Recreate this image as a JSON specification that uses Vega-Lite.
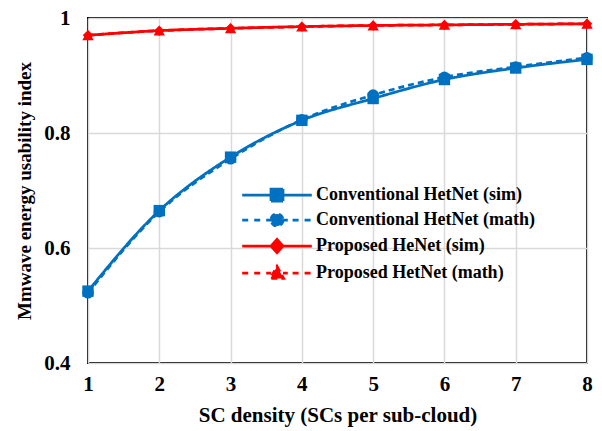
{
  "$schema": "https://vega.github.io/schema/vega-lite/v6.json",
  "autosize": "none",
  "width": 499,
  "height": 345,
  "padding": {"left": 88, "top": 18, "right": 15, "bottom": 68},
  "background": "white",
  "config": {
    "font": "Liberation Serif",
    "view": {"stroke": "black", "strokeWidth": 2},
    "axis": {
      "labelFont": "Liberation Serif", "labelFontWeight": "bold", "labelFontSize": 21, "labelColor": "black",
      "titleFont": "Liberation Serif", "titleFontWeight": "bold", "titleFontSize": 21, "titleColor": "black",
      "gridColor": "#d9d9d9", "gridWidth": 1.5, "domain": false, "ticks": false
    }
  },
  "data": {"values": [
    {"x": 1, "y": 0.525, "series": "Conventional HetNet (sim)"},
    {"x": 2, "y": 0.665, "series": "Conventional HetNet (sim)"},
    {"x": 3, "y": 0.758, "series": "Conventional HetNet (sim)"},
    {"x": 4, "y": 0.822, "series": "Conventional HetNet (sim)"},
    {"x": 5, "y": 0.860, "series": "Conventional HetNet (sim)"},
    {"x": 6, "y": 0.893, "series": "Conventional HetNet (sim)"},
    {"x": 7, "y": 0.913, "series": "Conventional HetNet (sim)"},
    {"x": 8, "y": 0.928, "series": "Conventional HetNet (sim)"},
    {"x": 1, "y": 0.522, "series": "Conventional HetNet (math)"},
    {"x": 2, "y": 0.663, "series": "Conventional HetNet (math)"},
    {"x": 3, "y": 0.755, "series": "Conventional HetNet (math)"},
    {"x": 4, "y": 0.823, "series": "Conventional HetNet (math)"},
    {"x": 5, "y": 0.866, "series": "Conventional HetNet (math)"},
    {"x": 6, "y": 0.897, "series": "Conventional HetNet (math)"},
    {"x": 7, "y": 0.915, "series": "Conventional HetNet (math)"},
    {"x": 8, "y": 0.931, "series": "Conventional HetNet (math)"},
    {"x": 1, "y": 0.970, "series": "Proposed HeNet (sim)"},
    {"x": 2, "y": 0.978, "series": "Proposed HeNet (sim)"},
    {"x": 3, "y": 0.982, "series": "Proposed HeNet (sim)"},
    {"x": 4, "y": 0.985, "series": "Proposed HeNet (sim)"},
    {"x": 5, "y": 0.987, "series": "Proposed HeNet (sim)"},
    {"x": 6, "y": 0.988, "series": "Proposed HeNet (sim)"},
    {"x": 7, "y": 0.989, "series": "Proposed HeNet (sim)"},
    {"x": 8, "y": 0.990, "series": "Proposed HeNet (sim)"},
    {"x": 1, "y": 0.970, "series": "Proposed HetNet (math)"},
    {"x": 2, "y": 0.978, "series": "Proposed HetNet (math)"},
    {"x": 3, "y": 0.982, "series": "Proposed HetNet (math)"},
    {"x": 4, "y": 0.985, "series": "Proposed HetNet (math)"},
    {"x": 5, "y": 0.987, "series": "Proposed HetNet (math)"},
    {"x": 6, "y": 0.988, "series": "Proposed HetNet (math)"},
    {"x": 7, "y": 0.989, "series": "Proposed HetNet (math)"},
    {"x": 8, "y": 0.990, "series": "Proposed HetNet (math)"}
  ]},
  "encoding": {
    "x": {"field": "x", "type": "quantitative", "scale": {"domain": [1, 8], "nice": false},
          "axis": {"values": [1,2,3,4,5,6,7,8], "title": "SC density (SCs per sub-cloud)", "labelPadding": 10, "titlePadding": 10, "labelFlush": false}},
    "y": {"field": "y", "type": "quantitative", "scale": {"domain": [0.4, 1], "nice": false},
          "axis": {"values": [0.4, 0.6, 0.8, 1.0], "format": ".1~f", "title": "Mmwave energy usability index", "titleFontSize": 19, "labelPadding": 18, "titlePadding": 9, "labelFlush": false}},
    "color": {"field": "series", "type": "nominal",
              "scale": {"domain": ["Conventional HetNet (sim)", "Conventional HetNet (math)", "Proposed HeNet (sim)", "Proposed HetNet (math)"],
                        "range": ["#0070C0", "#0070C0", "#FF0000", "#FF0000"]},
              "legend": {
                "title": null, "orient": "none", "legendX": 180, "legendY": 168,
                "labelFont": "Liberation Serif", "labelFontWeight": "bold", "labelFontSize": 18, "labelColor": "black", "labelLimit": 400,
                "symbolSize": 144, "symbolStrokeWidth": 2.75, "labelOffset": 30, "rowPadding": 1,
                "encode": {"symbols": {"update": {
                  "shape": {"signal": "datum.value === 'Conventional HetNet (sim)' ? 'M-5.8,0H5.8M-1,-1H1V1H-1Z' : datum.value === 'Conventional HetNet (math)' ? 'M-5.8,0H-4.6M-3.8,0H-2.6M-1.8,0H-1M1,0H1.8M2.6,0H3.8M4.6,0H5.8M1,0A1,1 0 1,1 -1,0A1,1 0 1,1 1,0Z' : datum.value === 'Proposed HeNet (sim)' ? 'M-5.8,0H5.8M0,-1.1L1,0L0,1.1L-1,0Z' : 'M-5.8,0H-4.6M-3.8,0H-2.6M-1.8,0H-1M1,0H1.8M2.6,0H3.8M4.6,0H5.8M0,-1.1L1.1,0.9H-1.1Z'"},
                  "stroke": {"signal": "datum.value === 'Conventional HetNet (sim)' || datum.value === 'Conventional HetNet (math)' ? '#0070C0' : '#FF0000'"},
                  "fill": {"signal": "datum.value === 'Conventional HetNet (sim)' || datum.value === 'Conventional HetNet (math)' ? '#0070C0' : '#FF0000'"},
                  "strokeWidth": {"value": 2.75},
                  "strokeDash": {"value": [1, 0]},
                  "opacity": {"value": 1}
                }}}
              }}
  },
  "layer": [
    {
      "mark": {"type": "line", "interpolate": "monotone", "strokeWidth": 2.75},
      "encoding": {
        "strokeDash": {"field": "series", "type": "nominal", "legend": null,
                       "scale": {"domain": ["Conventional HetNet (sim)", "Conventional HetNet (math)", "Proposed HeNet (sim)", "Proposed HetNet (math)"],
                                 "range": [[1, 0], [6, 4], [1, 0], [6, 4]]}}
      }
    },
    {
      "transform": [{"filter": "datum.series === 'Conventional HetNet (sim)'"}],
      "mark": {"type": "point", "filled": true, "opacity": 1, "size": 130, "shape": "square"}
    },
    {
      "transform": [{"filter": "datum.series === 'Conventional HetNet (math)'"}],
      "mark": {"type": "point", "filled": true, "opacity": 1, "size": 130, "shape": "circle"}
    },
    {
      "transform": [{"filter": "datum.series === 'Proposed HeNet (sim)'"}],
      "mark": {"type": "point", "filled": true, "opacity": 1, "size": 110, "shape": "diamond"}
    },
    {
      "transform": [{"filter": "datum.series === 'Proposed HetNet (math)'"}],
      "mark": {"type": "point", "filled": true, "opacity": 1, "size": 130, "shape": "triangle-up"}
    }
  ]
}
